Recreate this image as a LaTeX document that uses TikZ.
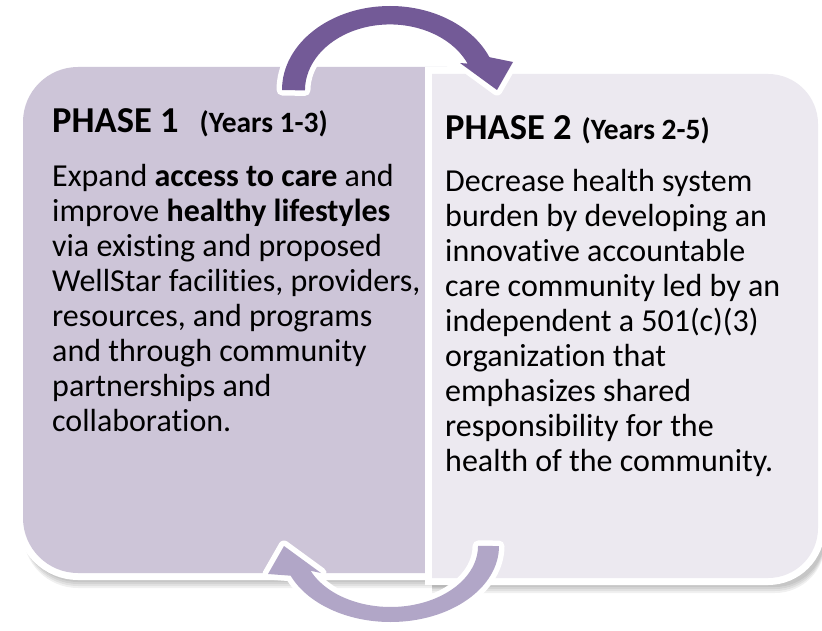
\documentclass[tikz,border=0pt]{standalone}
\usepackage{fontspec}
\setmainfont{Carlito}[Ligatures={NoCommon,NoRare,NoContextual}]
\definecolor{leftfill}{RGB}{205,197,216}
\definecolor{rightfill}{RGB}{236,233,240}
\definecolor{arrowdark}{RGB}{115,90,151}
\definecolor{arrowlight}{RGB}{177,166,199}
\tikzset{
  boxborder/.style={draw=white, line width=14pt},
  arrowborder/.style={draw=white, line width=11pt, line join=round},
  shadowbox/.style={fill=black, opacity=0.06},
  bodytext/.style={anchor=base west, inner sep=0pt, text=black},
}
\begin{document}
\begin{tikzpicture}[x=1pt,y=1pt]
\useasboundingbox (0,0) rectangle (822,-631);
\fill[white] (0,0) rectangle (822,-631);
% shadows
\foreach \d in {2,4,6,8}{
  \fill[shadowbox] (447,-67-\d) [rounded corners=55pt] -- (23,-67-\d) -- (23,-580-\d) [sharp corners] -- (447,-580-\d) -- cycle;
  \fill[shadowbox] (432,-74-\d) [rounded corners=50pt] -- (825,-74-\d) -- (825,-585-\d) [sharp corners] -- (432,-585-\d) -- cycle;
}
% left box
\draw[boxborder] (447,-67) [rounded corners=55pt] -- (23,-67) -- (23,-573) [sharp corners] -- (447,-573) -- cycle;
\fill[leftfill] (447,-67) [rounded corners=55pt] -- (23,-67) -- (23,-573) [sharp corners] -- (447,-573) -- cycle;
% right box
\draw[boxborder] (432,-74) [rounded corners=50pt] -- (818,-74) -- (818,-578) [sharp corners] -- (432,-578) -- cycle;
\fill[rightfill] (432,-74) [rounded corners=50pt] -- (818,-74) -- (818,-578) [sharp corners] -- (432,-578) -- cycle;
% top arrow
\path[arrowborder] (282,-90) arc[start angle=180, end angle=23, x radius=108pt, y radius=84pt]
  -- (513,-62) -- (497,-90) -- (460,-63) -- (467.6,-63.6)
  arc[start angle=24, end angle=180, x radius=85pt, y radius=66pt] -- cycle;
\fill[arrowdark] (282,-90) arc[start angle=180, end angle=23, x radius=108pt, y radius=84pt]
  -- (513,-62) -- (497,-90) -- (460,-63) -- (467.6,-63.6)
  arc[start angle=24, end angle=180, x radius=85pt, y radius=66pt] -- cycle;
% bottom arrow
\path[arrowborder] (499,-546) arc[start angle=0, end angle=-157, x radius=108.5pt, y radius=76pt]
  -- (268,-574) -- (284,-546) -- (321,-573) -- (310.6,-570.8)
  arc[start angle=-156, end angle=0, x radius=87.5pt, y radius=61pt] -- cycle;
\fill[arrowlight] (499,-546) arc[start angle=0, end angle=-157, x radius=108.5pt, y radius=76pt]
  -- (268,-574) -- (284,-546) -- (321,-573) -- (310.6,-570.8)
  arc[start angle=-156, end angle=0, x radius=87.5pt, y radius=61pt] -- cycle;
% texts
\node[bodytext] (h1) at (52,-133) {\fontsize{36.5pt}{40pt}\selectfont\bfseries PHASE 1\hspace{21pt}{\fontsize{29.5pt}{32pt}\selectfont (Years 1-3)}};
\node[bodytext] (b1) at (52,-187) {\parbox[t]{380pt}{\fontsize{32pt}{35pt}\selectfont\raggedright
Expand \textbf{access to care} and\\
improve \textbf{healthy lifestyles}\\
via existing and proposed\\
WellStar facilities, providers,\\
resources, and programs\\
and through community\\
partnerships and\\
collaboration.}};
\node[bodytext] (h2) at (445,-140) {\fontsize{36.5pt}{40pt}\selectfont\bfseries PHASE 2\hspace{10pt}{\fontsize{29.5pt}{32pt}\selectfont (Years 2-5)}};
\node[bodytext] (b2) at (445,-192) {\parbox[t]{370pt}{\fontsize{32pt}{35pt}\selectfont\raggedright
Decrease health system\\
burden by developing an\\
innovative accountable\\
care community led by an\\
independent a 501(c)(3)\\
organization that\\
emphasizes shared\\
responsibility for the\\
health of the community.}};
\end{tikzpicture}
\end{document}
